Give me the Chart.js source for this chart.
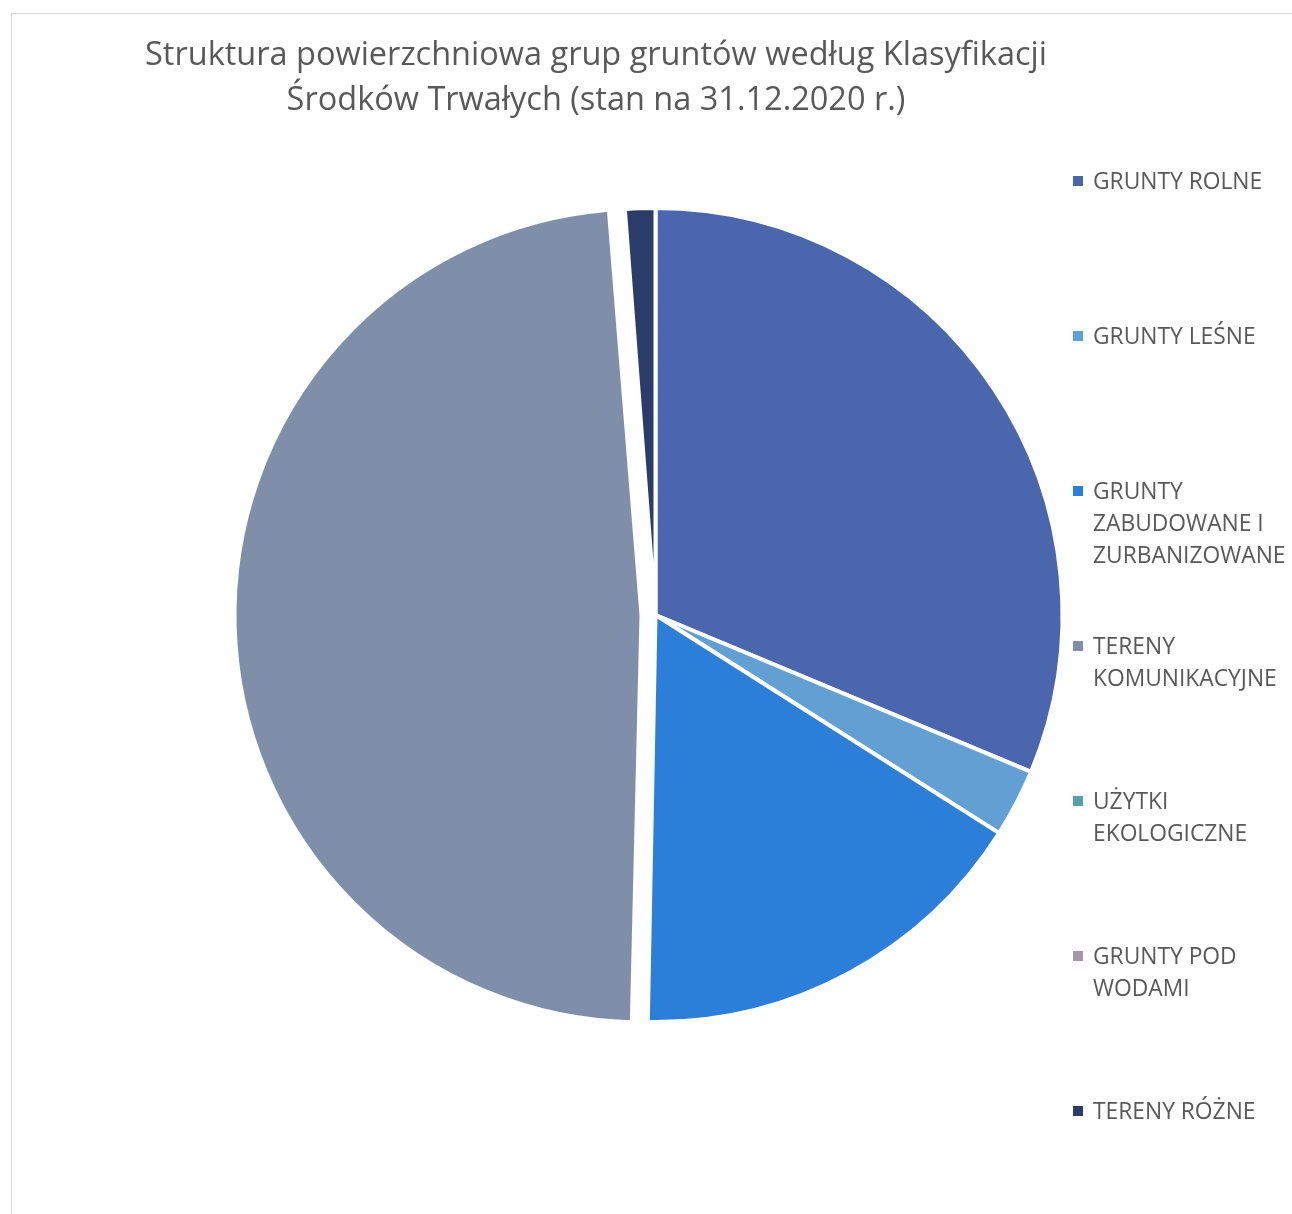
<!DOCTYPE html>
<html>
<head>
<meta charset="utf-8">
<script src="https://cdn.jsdelivr.net/npm/chart.js@4"></script>
<style>
  body { margin: 0; background: #fff; width: 1292px; height: 1214px; overflow: hidden; position: relative; font-family: "Open Sans", sans-serif; }
  #frame { position: absolute; left: 11px; top: 13px; width: 1400px; height: 1400px; border: 1.5px solid #d9d9d9; }
  #chart { position: absolute; left: 0; top: 0; }
  #title { position: absolute; left: 0; top: 30px; width: 1192px; text-align: center; font-size: 32.5px; line-height: 45px; color: #595959; }
  #legend { position: absolute; left: 0; top: 0; }
  .item { position: absolute; left: 1093px; font-size: 22.8px; line-height: 32px; color: #595959; white-space: nowrap; }
  .box { position: absolute; left: -20px; top: 11px; width: 10px; height: 10px; }
</style>
</head>
<body>
<div id="frame"></div>
<canvas id="chart" width="1292" height="1214"></canvas>
<div id="title">Struktura powierzchniowa grup gruntów według Klasyfikacji<br>Środków Trwałych (stan na 31.12.2020 r.)</div>
<div id="legend"></div>
<script>
const labels = [
  ['GRUNTY ROLNE'],
  ['GRUNTY LEŚNE'],
  ['GRUNTY', 'ZABUDOWANE I', 'ZURBANIZOWANE'],
  ['TERENY', 'KOMUNIKACYJNE'],
  ['UŻYTKI', 'EKOLOGICZNE'],
  ['GRUNTY POD', 'WODAMI'],
  ['TERENY RÓŻNE']
];
// udział w %
const shares = [31.3, 2.7, 16.3, 48.5, 0, 0, 1.2];
const colors = ['#4a67ae', '#629fd3', '#2b7fd9', '#808fa9', '#56a0aa', '#a597ab', '#2b3c68'];
const offsets = [0, 0, 0, 56, 0, 0, 0];
const pieRadius = 407;

// chart.js powiększa promień wysuniętego wycinka - tu go cofamy,
// żeby wysunięty kawałek miał ten sam promień co reszta
const sameRadius = {
  id: 'sameRadius',
  beforeDatasetsDraw(chart) {
    chart.getDatasetMeta(0).data.forEach((arc, i) => {
      const off = offsets[i] / 4;
      if (!off) return;
      const fix = 1 - Math.sin(Math.min(Math.PI, arc.circumference || 0));
      arc.outerRadius = pieRadius - off * fix;
    });
  }
};

const ctx = document.getElementById('chart').getContext('2d');
new Chart(ctx, {
  type: 'pie',
  data: {
    labels: labels,
    datasets: [{
      data: shares,
      backgroundColor: colors,
      borderColor: '#ffffff',
      borderWidth: 4,
      offset: offsets
    }]
  },
  options: {
    responsive: false,
    animation: false,
    radius: pieRadius,
    layout: { padding: { left: 19, top: 16 } },
    plugins: {
      legend: { display: false },
      tooltip: { enabled: false },
      title: { display: false }
    }
  },
  plugins: [sameRadius]
});

// legenda po prawej stronie
const legend = document.getElementById('legend');
labels.forEach((lines, i) => {
  const el = document.createElement('div');
  el.className = 'item';
  el.style.top = (165 + 155 * i) + 'px';
  el.innerHTML = '<span class="box" style="background:' + colors[i] + '"></span>' + lines.join('<br>');
  legend.appendChild(el);
});
</script>
</body>
</html>
